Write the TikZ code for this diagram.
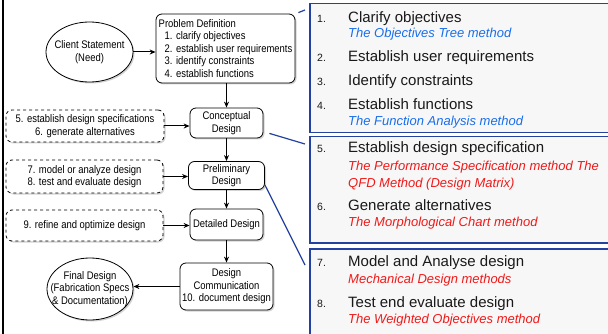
\documentclass[tikz,border=0pt]{standalone}
\usepackage{fontspec}
\setmainfont{Liberation Sans}
\newfontfamily\narrowfont[FakeStretch=0.86]{Liberation Sans}
\usetikzlibrary{shapes.geometric,shadows,calc,arrows.meta}
\definecolor{frameblue}{RGB}{35,65,160}
\definecolor{methblue}{RGB}{25,110,235}
\definecolor{methred}{RGB}{240,25,25}
\definecolor{panel}{RGB}{247,247,247}

\begin{document}
\begin{tikzpicture}[x=1pt, y=-1pt, >={Stealth[length=6pt,width=5pt]},
    txt/.style={font=\narrowfont\fontsize{11}{12.5}\selectfont, align=center, inner sep=1pt},
    stage/.style={txt, draw, line width=0.8pt, rounded corners=6pt, fill=white,
      drop shadow={opacity=0.35, shadow xshift=1.5pt, shadow yshift=-1.5pt}},
    task/.style={stage, dashed},
    blob/.style={draw, ellipse, line width=0.8pt, inner sep=0pt, fill=white,
      drop shadow={opacity=0.35, shadow xshift=1.5pt, shadow yshift=-1.5pt}},
    flow/.style={->, line width=1pt},
    panelbox/.style={draw=frameblue, fill=panel, line width=1.5pt, anchor=north west, minimum width=330pt},
    link/.style={draw=frameblue, line width=1.2pt},
    num/.style={anchor=base west, inner sep=0pt, font=\fontsize{10.5}{12}\selectfont, text=black!90},
    itm/.style={anchor=base west, inner sep=0pt, font=\fontsize{15}{18}\selectfont, text=black!90},
    meth/.style={anchor=base west, inner sep=0pt, font=\itshape\fontsize{13}{16}\selectfont}]
  \useasboundingbox (0,0) rectangle (608,334);
  \clip (0,0) rectangle (608,334);
  \draw[line width=2.5pt] (3,0) -- (3,334);

  % design process flow chart
  \node[blob, minimum width=87pt, minimum height=60pt] (client) at (89.5,52) {};
  \node[txt] (clienttxt) at (client) {Client Statement\\(Need)};
  \node[stage, align=left, minimum width=139pt, minimum height=69pt] (pdef) at (225.5,48.5)
    {Problem Definition\\ \hspace*{6pt}1. clarify objectives\\ \hspace*{6pt}2. establish user requirements\\
     \hspace*{6pt}3. identify constraints\\ \hspace*{6pt}4. establish functions};
  \node[stage, minimum width=73pt, minimum height=30pt] (concept) at (226.5,123) {Conceptual\\Design};
  \node[task, minimum width=158pt, minimum height=32pt] (spec) at (85,126) {5. establish design specifications\\6. generate alternatives};
  \node[stage, minimum width=76pt, minimum height=28pt] (prelim) at (226.5,175.5) {Preliminary\\Design};
  \node[task, minimum width=157pt, minimum height=33pt] (model) at (84.5,176.5) {7. model or analyze design\\8. test and evaluate design};
  \node[stage, minimum width=73pt, minimum height=31pt] (detail) at (226.5,224.5) {Detailed Design};
  \node[task, minimum width=157pt, minimum height=31pt] (refine) at (84.5,225.5) {9. refine and optimize design};
  \node[stage, minimum width=93pt, minimum height=47pt] (comm) at (226.5,286.5) {Design\\Communication\\10. document design};
  \node[blob, minimum width=86pt, minimum height=62pt] (final) at (90,289) {};
  \node[txt] (finaltxt) at (final) {Final Design\\(Fabrication Specs\\\& Documentation)};

  \draw[flow] (client.east) -- (client.east -| pdef.west);
  \draw[flow] (pdef.south -| concept) -- (concept.north);
  \draw[flow] (spec.east) -- (spec.east -| concept.west);
  \draw[flow] (concept) -- (prelim);
  \draw[flow] (model.east) -- (model.east -| prelim.west);
  \draw[flow] (prelim) -- (detail);
  \draw[flow] (refine.east) -- (refine.east -| detail.west);
  \draw[flow] (detail) -- (comm);
  \draw[flow] (comm.west) -- (comm.west -| final.east);

  % method panels
  \node[panelbox, minimum height=129pt] (rb1) at (309,3) {};
  \node[panelbox, minimum height=106pt] (rb2) at (309,136) {};
  \node[panelbox, minimum height=100pt] (rb3) at (309,248) {};
  \draw[link] ($(pdef.north east)+(3,-1)$) -- ($(rb1.north west)+(-4,7)$);
  \draw[link] ($(concept.south east)+(6,-5)$) -- ($(rb2.north west)+(-4,8)$);
  \draw[link] ($(prelim.south east)+(0,-5)$) -- ($(rb3.north west)+(-4,17)$);

  \foreach \n/\y/\t in {1/22.7/Clarify objectives, 2/62/Establish user requirements, 3/86/Identify constraints,
      4/110/Establish functions, 5/153/Establish design specification, 6/210/Generate alternatives,
      7/266/Model and Analyse design, 8/307/Test end evaluate design} {
    \node[num] (num\n) at (317,\y) {\n.};
    \node[itm] (item\n) at (348,\y) {\t};
  }
  \foreach \k/\y/\c/\t in {a/38/methblue/The Objectives Tree method, b/126/methblue/The Function Analysis method,
      c/171/methred/The Performance Specification method The, d/187/methred/QFD Method (Design Matrix),
      e/226/methred/The Morphological Chart method, f/283/methred/Mechanical Design methods,
      g/323/methred/The Weighted Objectives method}
    \node[meth, text=\c] (meth\k) at (348,\y) {\t};
\end{tikzpicture}
\end{document}
